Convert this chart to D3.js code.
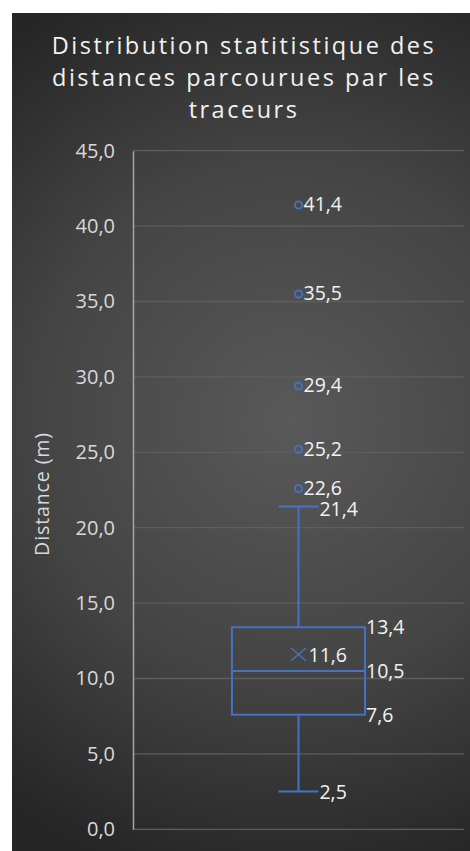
<!DOCTYPE html>
<html>
<head>
<meta charset="utf-8">
<script src="https://cdn.jsdelivr.net/npm/d3@7"></script>
<style>
  html, body { margin: 0; padding: 0; background: #ffffff; }
  svg { display: block; }
  text { font-family: "Open Sans", "Noto Sans", sans-serif; }
</style>
</head>
<body>
<svg id="chart" width="470" height="851"></svg>
<script>
// Distances parcourues par les traceurs (m) — résumé en boîte à moustaches
const categories = ["Traceurs"];
const whiskerLow = [2.5];
const quartile1 = [7.6];
const medianValues = [10.5];
const quartile3 = [13.4];
const whiskerHigh = [21.4];
const meanValues = [11.6];
const outliers = [22.6, 25.2, 29.4, 35.5, 41.4];
const yTicks = [0, 5, 10, 15, 20, 25, 30, 35, 40, 45];
const titleLines = ["Distribution statitistique des", "distances parcourues par les", "traceurs"];
const yTitle = "Distance (m)";

const blue = "#4472C4";
const fmt = v => d3.format(".1f")(v).replace(".", ",");

const svg = d3.select("#chart");
const W = 470, H = 851;
const frame = { x: 12, y: 13, w: W - 12, h: H - 13 };
const plot = { left: 133, right: 464, top: 150.7, bottom: 829.3 };

// background with radial shading
const defs = svg.append("defs");
const grad = defs.append("radialGradient")
  .attr("id", "bg").attr("gradientUnits", "userSpaceOnUse")
  .attr("cx", 290).attr("cy", 420).attr("r", 470);
grad.append("stop").attr("offset", "0").attr("stop-color", "#595959");
grad.append("stop").attr("offset", "0.55").attr("stop-color", "#444444");
grad.append("stop").attr("offset", "1").attr("stop-color", "#262626");
svg.append("rect")
  .attr("x", frame.x).attr("y", frame.y)
  .attr("width", frame.w).attr("height", frame.h)
  .attr("fill", "url(#bg)");

const y = d3.scaleLinear().domain([0, 45]).range([plot.bottom, plot.top]);
const x = d3.scaleBand().domain(categories).range([plot.left, plot.right]).padding(0);

// gridlines
svg.append("g")
  .selectAll("line").data(yTicks).join("line")
  .attr("x1", plot.left).attr("x2", plot.right)
  .attr("y1", d => y(d)).attr("y2", d => y(d))
  .attr("stroke", "#5e5e5e").attr("stroke-width", 1.3);

// y axis
const yAxis = d3.axisLeft(y).tickValues(yTicks).tickFormat(fmt).tickSize(0).tickPadding(18);
const gy = svg.append("g").attr("transform", `translate(${plot.left},0)`).call(yAxis);
gy.select(".domain").attr("stroke", "#a6a6a6").attr("stroke-width", 1.5);
gy.selectAll("text")
  .attr("fill", "#d9d9d9").attr("font-size", 20)
  .style("font-family", "'Open Sans', sans-serif");

// axis title
svg.append("text")
  .attr("transform", `translate(49,${(plot.top + plot.bottom) / 2 + 4}) rotate(-90)`)
  .attr("text-anchor", "middle")
  .attr("fill", "#d9d9d9").attr("font-size", 19.5)
  .attr("letter-spacing", 0.9)
  .text(yTitle);

// chart title
svg.append("g").selectAll("text").data(titleLines).join("text")
  .attr("x", 244).attr("y", (d, i) => 54 + i * 32)
  .attr("text-anchor", "middle")
  .attr("fill", "#f2f2f2").attr("font-size", 23.5)
  .attr("letter-spacing", 2.5)
  .text(d => d);

// box plot
const g = svg.append("g");
categories.forEach((c, i) => {
  const cx = x(c) + x.bandwidth() / 2;
  const bw = x.bandwidth() * 0.402;
  const cap = bw * 0.3;

  // whiskers
  g.append("line")
    .attr("x1", cx).attr("x2", cx)
    .attr("y1", y(quartile3[i])).attr("y2", y(whiskerHigh[i]))
    .attr("stroke", blue).attr("stroke-width", 2);
  g.append("line")
    .attr("x1", cx).attr("x2", cx)
    .attr("y1", y(quartile1[i])).attr("y2", y(whiskerLow[i]))
    .attr("stroke", blue).attr("stroke-width", 2);
  [whiskerHigh[i], whiskerLow[i]].forEach(v => {
    g.append("line")
      .attr("x1", cx - cap / 2).attr("x2", cx + cap / 2)
      .attr("y1", y(v)).attr("y2", y(v))
      .attr("stroke", blue).attr("stroke-width", 2);
  });

  // box
  g.append("rect")
    .attr("x", cx - bw / 2).attr("y", y(quartile3[i]))
    .attr("width", bw).attr("height", y(quartile1[i]) - y(quartile3[i]))
    .attr("fill", "none").attr("stroke", blue).attr("stroke-width", 2);
  g.append("line")
    .attr("x1", cx - bw / 2).attr("x2", cx + bw / 2)
    .attr("y1", y(medianValues[i])).attr("y2", y(medianValues[i]))
    .attr("stroke", blue).attr("stroke-width", 2);

  // mean marker
  const m = 7.5;
  const my = y(meanValues[i]);
  g.append("path")
    .attr("d", `M${cx - m},${my - m * 0.85}L${cx + m},${my + m * 0.85}M${cx - m},${my + m * 0.85}L${cx + m},${my - m * 0.85}`)
    .attr("stroke", blue).attr("stroke-width", 1.6).attr("fill", "none");

  // outliers
  g.selectAll("circle.out").data(outliers).join("circle")
    .attr("class", "out")
    .attr("cx", cx).attr("cy", d => y(d)).attr("r", 3.6)
    .attr("fill", "none").attr("stroke", blue).attr("stroke-width", 1.8);

  // data labels
  const labels = [
    { v: whiskerHigh[i], x: cx + cap / 2 + 1, dy: 4 },
    { v: quartile3[i], x: cx + bw / 2 + 1, dy: 2 },
    { v: meanValues[i], x: cx + 10, dy: 2 },
    { v: medianValues[i], x: cx + bw / 2 + 1, dy: 2 },
    { v: quartile1[i], x: cx + bw / 2 + 1, dy: 2 },
    { v: whiskerLow[i], x: cx + cap / 2 + 1, dy: 2 }
  ].concat(outliers.map(v => ({ v, x: cx + 5, dy: 1 })));
  g.selectAll("text.lbl").data(labels).join("text")
    .attr("class", "lbl")
    .attr("x", d => d.x).attr("y", d => y(d.v) + d.dy)
    .attr("dominant-baseline", "middle")
    .attr("fill", "#f2f2f2").attr("font-size", 19.5)
    .text(d => fmt(d.v));
});
</script>
</body>
</html>
